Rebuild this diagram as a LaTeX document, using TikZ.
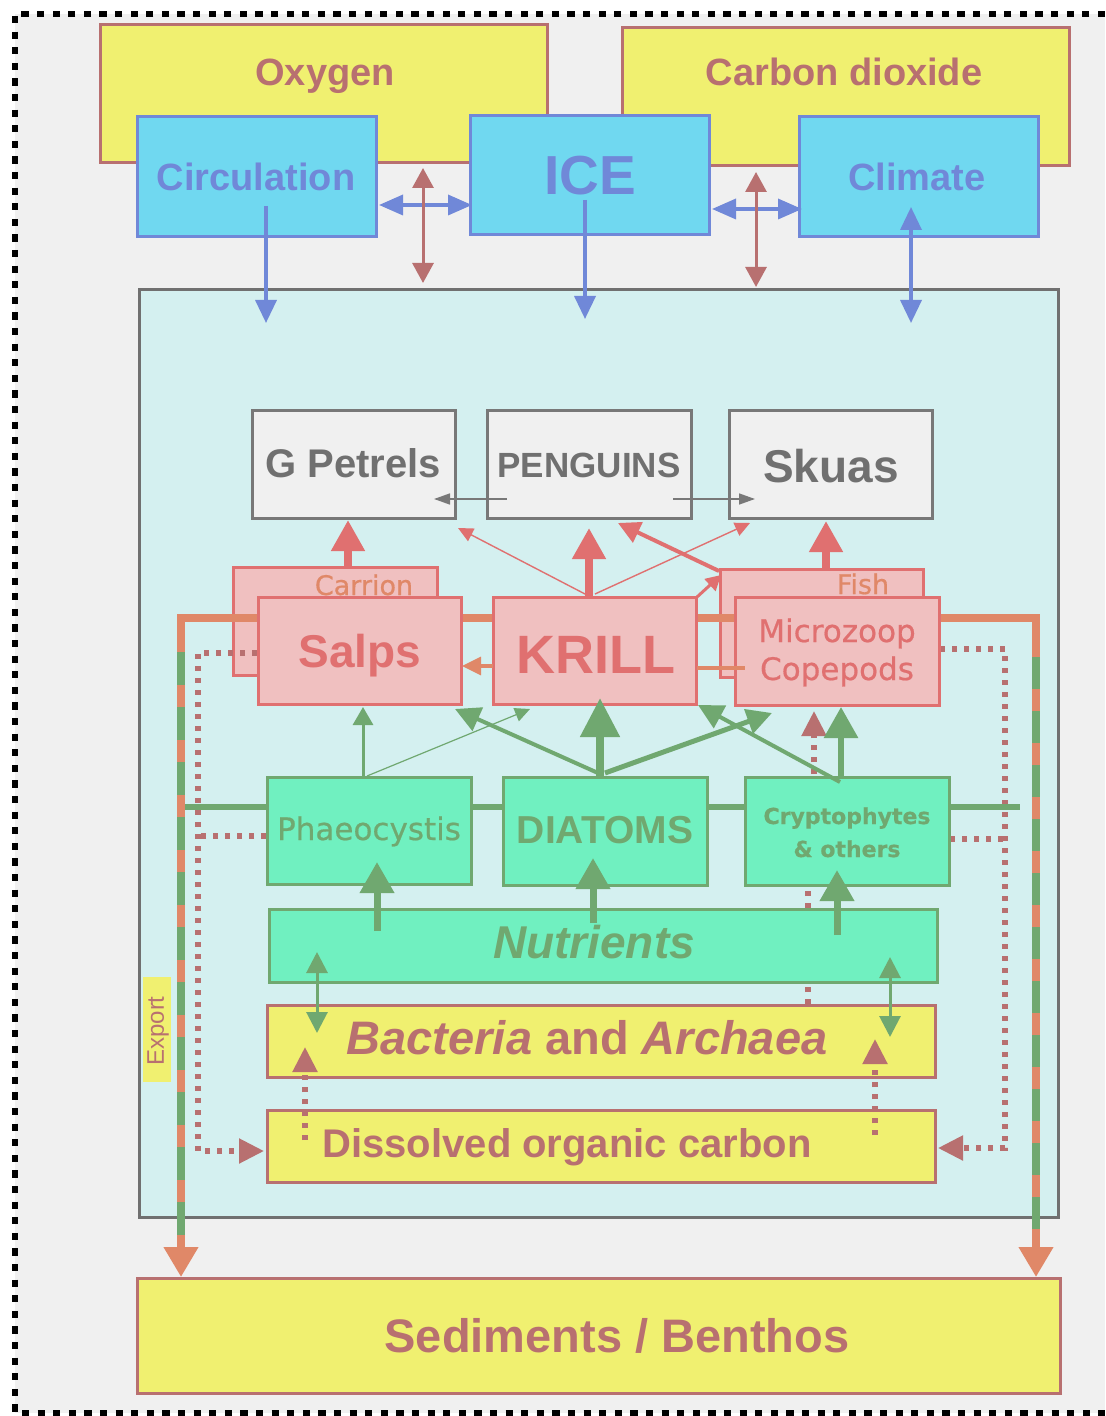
\documentclass[tikz,border=0pt]{standalone}
\usepackage{fontspec}
\setmainfont{Liberation Sans}
\newfontfamily\dvf[FakeBold=0.6]{DejaVu Sans}
\usetikzlibrary{arrows.meta,fit}
\definecolor{cyel}{RGB}{240,240,112}
\definecolor{cbrn}{RGB}{184,112,112}
\definecolor{ccyan}{RGB}{112,216,240}
\definecolor{cblue}{RGB}{112,136,216}
\definecolor{cocean}{RGB}{212,240,240}
\definecolor{cbg}{RGB}{240,240,240}
\definecolor{cgrayb}{RGB}{120,120,120}
\definecolor{cgrayt}{RGB}{112,112,112}
\definecolor{cpink}{RGB}{240,192,192}
\definecolor{cred}{RGB}{224,112,112}
\definecolor{corange}{RGB}{224,136,104}
\definecolor{cmint}{RGB}{112,240,192}
\definecolor{cgreen}{RGB}{112,168,112}
\definecolor{coceanb}{RGB}{112,112,112}
\tikzset{
 bx/.style={inner sep=0pt, outer sep=0pt, line width=1.5pt},
 ybox/.style={bx, draw=cbrn, fill=cyel},
 cbox/.style={bx, draw=cblue, fill=ccyan},
 wbox/.style={bx, draw=cgrayb, fill=cbg},
 pbox/.style={bx, draw=cred, fill=cpink},
 gbox/.style={bx, draw=cgreen, fill=cmint},
 txt/.style={inner sep=0pt, anchor=base},
 fsz/.style={font=\fontsize{#1}{#1}\selectfont\bfseries},
 fdv/.style={font=\fontsize{#1}{#1}\selectfont\dvf},
 fdvb/.style={font=\fontsize{#1}{#1}\selectfont\dvf\bfseries},
 arrBlue/.style={draw=cblue, line width=1.75pt, -{Triangle[width=10.5pt,length=11.5pt]}},
 arrBlueDbl/.style={draw=cblue, line width=1.75pt, {Triangle[width=10pt,length=12pt]}-{Triangle[width=10pt,length=12pt]}},
 arrBlueDblV/.style={draw=cblue, line width=1.75pt, {Triangle[width=10.5pt,length=11.5pt]}-{Triangle[width=10.5pt,length=11.5pt]}},
 arrBrnDbl/.style={draw=cbrn, line width=1.5pt, {Triangle[width=10.5pt,length=10pt]}-{Triangle[width=10.5pt,length=10pt]}},
 arrGray/.style={draw=cgrayb, line width=0.75pt, -{Triangle[width=5.5pt,length=8pt]}},
 arrRedThick/.style={draw=cred, line width=3.8pt, -{Triangle[width=16pt,length=15.5pt]}},
 arrRedThin/.style={draw=cred, line width=0.7pt, -{Triangle[width=7pt,length=7.5pt]}},
 arrRedMed/.style={draw=cred, line width=2pt, -{Triangle[width=11pt,length=11pt]}},
 arrRedSm/.style={draw=cred, line width=1.5pt, -{Triangle[width=8pt,length=7.5pt]}},
 arrOrg/.style={draw=corange, line width=1.6pt, -{Triangle[width=9pt,length=9.5pt]}},
 arrGrBig/.style={draw=cgreen, line width=4pt, -{Triangle[width=19pt,length=19.5pt]}},
 arrGrThick/.style={draw=cgreen, line width=3.5pt, -{Triangle[width=16.5pt,length=15.5pt]}},
 arrGrMed/.style={draw=cgreen, line width=2pt, -{Triangle[width=12.5pt,length=12.5pt]}},
 arrGrThin/.style={draw=cgreen, line width=0.6pt, -{Triangle[width=7pt,length=7.5pt]}},
 arrGrSm/.style={draw=cgreen, line width=1.5pt, -{Triangle[width=10pt,length=9pt]}},
 arrGrDbl/.style={draw=cgreen, line width=1.5pt, {Triangle[width=10.5pt,length=10.5pt]}-{Triangle[width=10.5pt,length=10.5pt]}},
 dotBrn/.style={draw=cbrn, line width=2.6pt, dash pattern=on 2.5pt off 3.5pt},
 dotBrnArr/.style={dotBrn, -{Triangle[width=12pt,length=12.5pt]}},
}
\begin{document}
\begin{tikzpicture}[x=0.5pt,y=-0.5pt]
\useasboundingbox (0,0) rectangle (1105,1416);
\fill[white] (0,0) rectangle (1105,1416);
\fill[cbg] (15,14) rectangle (1105,1413);
\draw[black, line width=3.4pt, dash pattern=on 3.6pt off 4.2pt] (1105,14) -- (15,14) -- (15,1413) -- (1105,1413);

% ---------- top boxes
\node[ybox, fit={(100,25)(547,163)}] (oxy) {};
\node[ybox, fit={(622,28)(1069,166)}] (co2) {};
\node[txt, fsz=19, text=cbrn] (oxyT) at (325,86) {Oxygen};
\node[txt, fsz=19, text=cbrn] (co2T) at (844,86) {Carbon dioxide};
\node[cbox, fit={(137,117)(376,237)}] (circ) {};
\node[cbox, fit={(470,116)(709,235)}] (ice) {};
\node[cbox, fit={(799,117)(1038,237)}] (clim) {};
\node[txt, fsz=19, text=cblue] (circT) at (256,191) {Circulation};
\node[txt, fsz=27.5, text=cblue] (iceT) at (590,195) {ICE};
\node[txt, fsz=19, text=cblue] (climT) at (917,191) {Climate};

% ---------- ocean
\node[bx, draw=coceanb, fill=cocean, fit={(139,290)(1058,1217)}] (ocean) {};

% top connectors
\coordinate (c1) at (266,206); \coordinate (c2) at (266,323);
\coordinate (i1) at (585,200); \coordinate (i2) at (585,319);
\coordinate (k1) at (911,207); \coordinate (k2) at (911,323);
\draw[arrBlue] (c1) -- (c2);
\draw[arrBlue] (i1) -- (i2);
\draw[arrBlueDblV] (k1) -- (k2);
\draw[arrBlueDbl] (379,205) -- (472,205);
\draw[arrBlueDbl] (712,209) -- (802,209);
\draw[arrBrnDbl] (423,168) -- (423,283);
\draw[arrBrnDbl] (756,172) -- (756,287);

% ---------- birds
\node[wbox, fit={(252,411)(455,518)}] (gp) {};
\node[wbox, fit={(487,411)(691,518)}] (peng) {};
\node[wbox, fit={(729,411)(932,518)}] (skua) {};
\node[txt, fsz=20, text=cgrayt] (gpT) at (353,478) {G Petrels};
\node[txt, fsz=17.5, text=cgrayt] (pengT) at (589,478) {PENGUINS};
\node[txt, fsz=23, text=cgrayt] (skuaT) at (831,482) {Skuas};
\draw[arrGray] (507,499) -- (434,499);
\draw[arrGray] (673,499) -- (755,499);

% red arrows to birds
\draw[arrRedThick] (348,567) -- (348,520);
\draw[arrRedThick] (589,597) -- (589,528);
\draw[arrRedThick] (826,569) -- (826,521);
\draw[arrRedThin] (585,594) -- (458,528);
\draw[arrRedThin] (595,594) -- (750,523);
\draw[arrRedMed] (719,571) -- (618,523);

% ---------- carrion / fish
\node[pbox, fit={(233,567)(437,675)}] (carr) {};
\node[pbox, fit={(720,569)(923,677)}] (fish) {};
\node[txt, fdv=13.5, text=corange] (carrT) at (364,595) {Carrion};
\node[txt, fdv=13.5, text=corange] (fishT) at (863,594) {Fish};

% export path (orange with green dashes)
\draw[draw=corange, line width=3.6pt, line join=miter,
  {Triangle[width=16.5pt,length=15pt]}-{Triangle[width=16.5pt,length=15pt]}]
  (181,1277) -- (181,618) -- (1036,618) -- (1036,1277);
\draw[cgreen, line width=3.6pt, dash pattern=on 16.5pt off 11pt] (181,652) -- (181,1246);
\draw[cgreen, line width=3.6pt, dash pattern=on 16pt off 11pt] (1036,657) -- (1036,1246);

% dotted DOC paths
\draw[dotBrnArr] (257,653) -- (198,653) -- (198,1151) -- (264,1151);
\draw[dotBrn] (266,836) -- (198,836);
\draw[dotBrnArr] (940,649) -- (1005,649) -- (1005,1148) -- (938,1148);
\draw[dotBrn] (950,839) -- (1005,839);

% ---------- consumers
\node[pbox, fit={(258,597)(461,704)}] (salps) {};
\node[pbox, fit={(493,597)(696,704)}] (krill) {};
\node[pbox, fit={(735,597)(939,705)}] (micro) {};
\node[txt, fsz=23, text=cred] (salpsT) at (360,667) {Salps};
\node[txt, fsz=27, text=cred] (krillT) at (596,673) {KRILL};
\node[txt, fdv=15.5, text=cred] (microT) at (837,642) {Microzoop};
\node[txt, fdv=15.5, text=cred] (copeT) at (837,680) {Copepods};
\draw[arrOrg] (493,666) -- (462,666);
\draw[corange, line width=1.6pt] (697,668) -- (745,668);
\draw[arrRedSm] (697,597) -- (721,575);

% ---------- producers
\draw[cgreen, line width=3pt] (185,807) -- (1020,807);
\draw[dotBrn] (808,1004) -- (808,880);
\draw[dotBrnArr] (814,774) -- (814,711);
\node[gbox, fit={(267,777)(471,884)}] (phaeo) {};
\node[gbox, fit={(503,777)(707,885)}] (diat) {};
\node[gbox, fit={(745,777)(949,885)}] (crypt) {};
\node[txt, fdv=15.5, text=cgreen] (phaeoT) at (369,840) {Phaeocystis};
\node[txt, fsz=19.5, text=cgreen] (diatT) at (605,843) {DIATOMS};
\node[txt, fdvb=11, text=cgreen] (cryptT) at (847,824) {Cryptophytes};
\node[txt, fdvb=11, text=cgreen] (othT) at (847,857) {\& others};

\node[gbox, fit={(269,909)(937,982)}] (nutr) {};
\node[txt, text=cgreen, font=\fontsize{23}{23}\selectfont\bfseries\itshape] (nutrT) at (594,958) {Nutrients};

\node[ybox, fit={(267,1005)(935,1077)}] (bact) {};
\node[txt, fsz=23.5, text=cbrn] (bactT) at (587,1054) {\itshape Bacteria\upshape{} and \itshape Archaea};
\node[ybox, fit={(267,1110)(935,1182)}] (doc) {};
\node[txt, fsz=20, text=cbrn] (docT) at (567,1157) {Dissolved organic carbon};

\node[ybox, fit={(137,1278)(1060,1393)}] (sed) {};
\node[txt, fsz=23.5, text=cbrn] (sedT) at (617,1352) {Sediments / Benthos};

\node[bx, fill=cyel, fit={(143,977)(171,1082)}] (exp) {};
\node[inner sep=0pt, rotate=90, font=\fontsize{12}{12}\selectfont, text=cbrn] (expT) at (158,1031) {Export};

% ---------- green arrows
\draw[arrGrBig] (600,777) -- (600,698);
\draw[arrGrMed] (598,773) -- (455,709);
\draw[arrGrThin] (367,776) -- (530,709);
\draw[arrGrMed, line width=2.5pt] (605,773) -- (772,713);
\draw[arrGrMed] (840,782) -- (698,705);
\draw[arrGrThick, line width=3pt] (841,779) -- (841,707);
\draw[arrGrSm] (363,777) -- (363,707);
\draw[arrGrThick] (377,931) -- (377,862);
\draw[arrGrThick] (593,923) -- (593,858);
\draw[arrGrThick] (837,935) -- (837,870);
\draw[arrGrDbl] (317,952) -- (317,1033);
\draw[arrGrDbl] (890,957) -- (890,1037);

% dotted DOC -> bacteria
\draw[dotBrnArr] (305,1140) -- (305,1047);
\draw[dotBrnArr] (875,1135) -- (875,1039);
\end{tikzpicture}
\end{document}
